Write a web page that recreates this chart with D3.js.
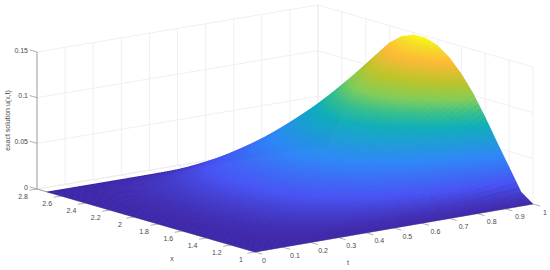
<!DOCTYPE html>
<html>
<head>
<meta charset="utf-8">
<script src="https://cdn.jsdelivr.net/npm/d3@7"></script>
<style>
  html, body { margin: 0; padding: 0; background: #fff; }
  #chart { position: relative; width: 550px; height: 270px; }
  #chart svg, #chart canvas { position: absolute; left: 0; top: 0; display: block; }
  text { font-family: "Liberation Sans", Arial, sans-serif; font-size: 7px; fill: #4a4a4a; }
</style>
</head>
<body>
<div id="chart"></div>
<script>
var svgWidth = 550;
var svgHeight = 270;

// tick labels
var xTicks = [1, 1.2, 1.4, 1.6, 1.8, 2, 2.2, 2.4, 2.6, 2.8];
var tTicks = [0, 0.1, 0.2, 0.3, 0.4, 0.5, 0.6, 0.7, 0.8, 0.9, 1];
var zTicks = [0, 0.05, 0.1, 0.15];

// surface samples, one row per t, one column per x
var xValues = [1, 1.1, 1.2, 1.3, 1.4, 1.5, 1.6, 1.7, 1.8, 1.9, 2, 2.1, 2.2, 2.3, 2.4, 2.5, 2.6, 2.7, 2.718];
var tValues = [0, 0.1, 0.2, 0.3, 0.4, 0.5, 0.6, 0.7, 0.8, 0.9, 1];
var uValues = [
  [0, 0, 0, 0, 0, 0, 0, 0, 0, 0, 0, 0, 0, 0, 0, 0, 0, 0, 0],
  [0, .0001, .0003, .0006, .0008, .0010, .0012, .0013, .0014, .0015, .0015, .0014, .0013, .0012, .0010, .0007, .0004, .0001, 0],
  [0, .0004, .0013, .0022, .0032, .0041, .0048, .0054, .0057, .0059, .0059, .0057, .0053, .0046, .0038, .0028, .0016, .0003, 0],
  [0, .0009, .0030, .0050, .0072, .0092, .0108, .0121, .0129, .0133, .0133, .0128, .0118, .0104, .0086, .0063, .0037, .0006, 0],
  [0, .0015, .0053, .0090, .0128, .0163, .0192, .0214, .0230, .0237, .0236, .0227, .0210, .0185, .0153, .0112, .0065, .0011, 0],
  [0, .0024, .0083, .0140, .0200, .0255, .0300, .0335, .0359, .0370, .0369, .0355, .0329, .0290, .0239, .0176, .0102, .0017, 0],
  [0, .0034, .0119, .0202, .0288, .0367, .0432, .0482, .0517, .0533, .0531, .0512, .0473, .0417, .0343, .0253, .0146, .0024, 0],
  [0, .0047, .0162, .0274, .0392, .0500, .0588, .0657, .0703, .0725, .0723, .0696, .0644, .0568, .0467, .0344, .0199, .0033, 0],
  [0, .0061, .0211, .0358, .0512, .0653, .0768, .0858, .0918, .0947, .0944, .0909, .0842, .0742, .0611, .0450, .0260, .0043, 0],
  [0, .0077, .0267, .0454, .0648, .0826, .0972, .1085, .1162, .1199, .1195, .1151, .1065, .0939, .0773, .0569, .0329, .0054, 0],
  [0, .0095, .0330, .0560, .0800, .1020, .1200, .1340, .1435, .1480, .1475, .1421, .1315, .1159, .0954, .0703, .0406, .0067, 0]
];

// parula colormap stops
var parulaStops = [0, 0.127, 0.3, 0.49, 0.57, 0.65, 0.75, 0.87, 0.95, 1];
var parulaColors = ["#3e26a8", "#4752f4", "#2d87f7", "#0faeb9", "#35bf8c", "#80cc59", "#b9c42a", "#fdb933", "#f6dc26", "#f9fb0e"];

// screen positions of the floor corners and the height of the z range
var corners = {
  front: [255, 252],
  left: [37, 189],
  right: [533, 204],
  back: [318, 142]
};
var zHeight = 137;

var xParam = d3.scaleLinear().domain([1, 2.8]).range([0, 1]);
var tParam = d3.scaleLinear().domain([0, 1]).range([0, 1]);
var zScale = d3.scaleLinear().domain([0, 0.15]).range([0, zHeight]);

var colorScale = d3.scaleLinear()
  .domain(parulaStops.map(d => d * d3.max(uValues.flat())))
  .range(parulaColors)
  .interpolate(d3.interpolateRgb);

// x,t,z to screen: bilinear over the floor quad, z straight up
function project(x, t, z) {
  var a = xParam(x);
  var b = tParam(t);
  var px = (1 - a) * (1 - b) * corners.front[0] + a * (1 - b) * corners.left[0]
    + (1 - a) * b * corners.right[0] + a * b * corners.back[0];
  var py = (1 - a) * (1 - b) * corners.front[1] + a * (1 - b) * corners.left[1]
    + (1 - a) * b * corners.right[1] + a * b * corners.back[1];
  return [px, py - zScale(z)];
}

var svg = d3.select("#chart")
  .append("svg")
  .attr("width", svgWidth)
  .attr("height", svgHeight);

function addLine(group, p, q, color, w) {
  group.append("line")
    .attr("x1", p[0]).attr("y1", p[1])
    .attr("x2", q[0]).attr("y2", q[1])
    .attr("stroke", color)
    .attr("stroke-width", w);
}

// grid on the walls and the floor
var gridGroup = svg.append("g");
var gridColor = "#e9e9e9";
var zMax = 0.15;

tTicks.forEach(function(t) {
  addLine(gridGroup, project(2.8, t, 0), project(2.8, t, zMax), gridColor, 0.7);
  addLine(gridGroup, project(2.8, t, 0), project(1, t, 0), gridColor, 0.7);
});
xTicks.forEach(function(x) {
  addLine(gridGroup, project(x, 1, 0), project(x, 1, zMax), gridColor, 0.7);
  addLine(gridGroup, project(x, 0, 0), project(x, 1, 0), gridColor, 0.7);
});
zTicks.forEach(function(z) {
  addLine(gridGroup, project(2.8, 0, z), project(2.8, 1, z), gridColor, 0.7);
  addLine(gridGroup, project(2.8, 1, z), project(1, 1, z), gridColor, 0.7);
});

// axes and tick marks
var axisGroup = svg.append("g");
var axisColor = "#8c8c8c";
addLine(axisGroup, project(2.8, 0, 0), project(2.8, 0, zMax), axisColor, 0.8);
addLine(axisGroup, project(2.8, 0, 0), project(1, 0, 0), axisColor, 0.8);
addLine(axisGroup, project(1, 0, 0), project(1, 1, 0), axisColor, 0.8);

xTicks.forEach(function(x) {
  var p = project(x, 0, 0);
  addLine(axisGroup, p, project(x, -0.027, 0), axisColor, 0.7);
  axisGroup.append("text")
    .attr("x", p[0] - 14)
    .attr("y", p[1] + 9.5)
    .attr("text-anchor", "middle")
    .text(x);
});
tTicks.forEach(function(t) {
  var p = project(1, t, 0);
  addLine(axisGroup, p, project(0.94, t, 0), axisColor, 0.7);
  axisGroup.append("text")
    .attr("x", p[0] + 7 + 3 * t)
    .attr("y", p[1] + 10.5)
    .attr("text-anchor", "start")
    .text(t);
});
zTicks.forEach(function(z) {
  var p = project(2.8, 0, z);
  addLine(axisGroup, p, project(2.86, 0, z), axisColor, 0.7);
  axisGroup.append("text")
    .attr("x", p[0] - 9)
    .attr("y", p[1] + 0.5)
    .attr("text-anchor", "end")
    .text(z);
});

// axis titles
svg.append("text").attr("x", 172).attr("y", 261).attr("text-anchor", "middle").text("x");
svg.append("text").attr("x", 348).attr("y", 264.5).attr("text-anchor", "middle").text("t");
svg.append("text")
  .attr("transform", "translate(10,120.5) rotate(-90)")
  .attr("text-anchor", "middle")
  .text("exact solution u(x,t)");

// surface goes on a double size canvas over the svg, so the pieces blend when
// the browser scales it down
var canvasScale = 2;
var ctx = d3.select("#chart")
  .append("canvas")
  .attr("width", svgWidth * canvasScale)
  .attr("height", svgHeight * canvasScale)
  .style("width", svgWidth + "px")
  .style("height", svgHeight + "px")
  .node()
  .getContext("2d");
ctx.scale(canvasScale, canvasScale);
ctx.lineWidth = 0.35;
ctx.lineJoin = "round";

// painted from the back corner to the front. Each cell is shaded in small
// pieces like shading interp: straight across x, rounded across t so the rows
// do not show up as creases
var xPieces = 5;
var tPieces = 14;

function rowValue(j, i) {
  if (j < 0) return 2 * uValues[0][i] - uValues[1][i];
  if (j >= uValues.length) return 2 * uValues[uValues.length - 1][i] - uValues[uValues.length - 2][i];
  return uValues[j][i];
}

function smoothAcrossT(j, i, b) {
  var p0 = rowValue(j - 1, i), p1 = rowValue(j, i), p2 = rowValue(j + 1, i), p3 = rowValue(j + 2, i);
  return 0.5 * (2 * p1 + (p2 - p0) * b + (2 * p0 - 5 * p1 + 4 * p2 - p3) * b * b
    + (3 * p1 - p0 - 3 * p2 + p3) * b * b * b);
}

function cellValue(i, j, a, b) {
  return (1 - a) * smoothAcrossT(j, i, b) + a * smoothAcrossT(j, i + 1, b);
}

for (var j = tValues.length - 2; j >= 0; j--) {
  for (var i = xValues.length - 2; i >= 0; i--) {
    for (var n = tPieces - 1; n >= 0; n--) {
      for (var m = xPieces - 1; m >= 0; m--) {
        var a0 = m / xPieces, a1 = (m + 1) / xPieces;
        var b0 = n / tPieces, b1 = (n + 1) / tPieces;
        var quad = [[a0, b0], [a1, b0], [a1, b1], [a0, b1]].map(function(c) {
          var x = xValues[i] + c[0] * (xValues[i + 1] - xValues[i]);
          var t = tValues[j] + c[1] * (tValues[j + 1] - tValues[j]);
          return project(x, t, cellValue(i, j, c[0], c[1]));
        });
        var col = colorScale(cellValue(i, j, (a0 + a1) / 2, (b0 + b1) / 2));
        ctx.fillStyle = col;
        ctx.strokeStyle = col;
        ctx.beginPath();
        quad.forEach(function(p, k) {
          if (k === 0) ctx.moveTo(p[0], p[1]);
          else ctx.lineTo(p[0], p[1]);
        });
        ctx.closePath();
        ctx.fill();
        ctx.stroke();
      }
    }
  }
}
</script>
</body>
</html>
